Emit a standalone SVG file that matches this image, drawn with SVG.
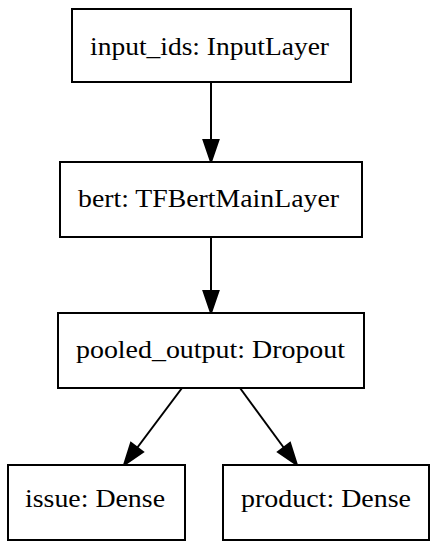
<svg xmlns="http://www.w3.org/2000/svg" width="437" height="550" viewBox="0 0 437 550">
<style>
.box{fill:#fff;stroke:#000;stroke-width:2}
.edge{stroke:#000;stroke-width:2;fill:none}
.head{fill:#000;stroke:#000;stroke-width:2}
.lbl{font-family:"Liberation Serif","Times New Roman",serif;font-size:26px;text-anchor:middle;fill:#000}
</style>
<rect width="437" height="550" fill="#fff"/>
<g id="edges">
<line class="edge" x1="211" y1="82" x2="211" y2="140"/>
<polygon class="head" points="211,162 203.5,140 218.5,140"/>
<line class="edge" x1="211" y1="237" x2="211" y2="291"/>
<polygon class="head" points="211,313 203.5,291 218.5,291"/>
<line class="edge" x1="182" y1="388" x2="137" y2="448"/>
<polygon class="head" points="124,465 131,443 143,452"/>
<line class="edge" x1="240" y1="388" x2="284" y2="448"/>
<polygon class="head" points="297,465 278,452 290,443"/>
</g>
<g id="input_ids">
<rect class="box" x="72" y="9" width="279" height="73"/>
<text class="lbl" x="209.5" y="55" textLength="239" lengthAdjust="spacingAndGlyphs">input_ids: InputLayer</text>
</g>
<g id="bert">
<rect class="box" x="60" y="162" width="302" height="75"/>
<text class="lbl" x="208.5" y="207" textLength="261" lengthAdjust="spacingAndGlyphs">bert: TFBertMainLayer</text>
</g>
<g id="pooled_output">
<rect class="box" x="58" y="313" width="306" height="75"/>
<text class="lbl" x="210.5" y="358" textLength="269" lengthAdjust="spacingAndGlyphs">pooled_output: Dropout</text>
</g>
<g id="issue">
<rect class="box" x="8" y="465" width="177" height="75"/>
<text class="lbl" x="95" y="507" textLength="140" lengthAdjust="spacingAndGlyphs">issue: Dense</text>
</g>
<g id="product">
<rect class="box" x="223" y="465" width="206" height="75"/>
<text class="lbl" x="326" y="507" textLength="170" lengthAdjust="spacingAndGlyphs">product: Dense</text>
</g>
</svg>
